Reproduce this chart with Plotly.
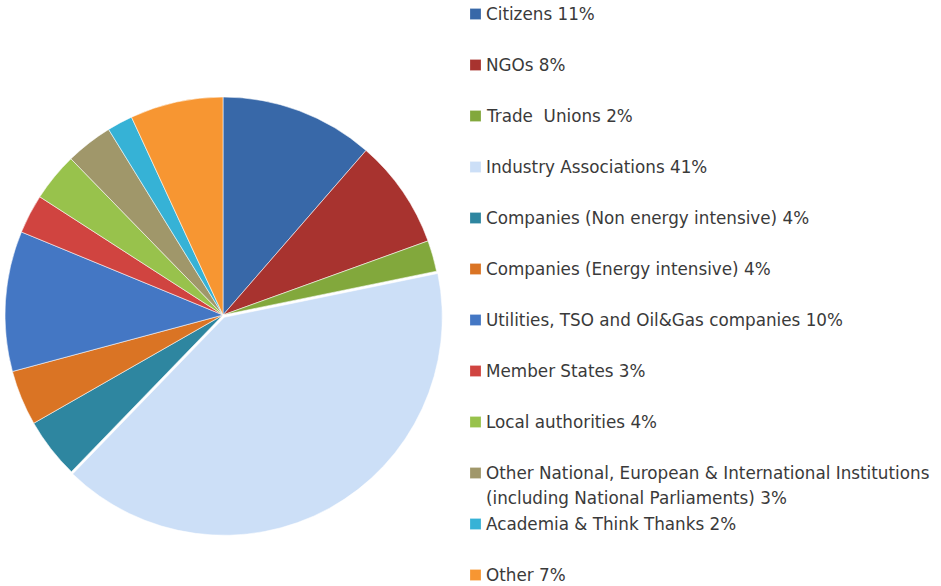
import plotly.graph_objects as go

categories = [
    "Citizens 11%",
    "NGOs 8%",
    "Trade  Unions 2%",
    "Industry Associations 41%",
    "Companies (Non energy intensive) 4%",
    "Companies (Energy intensive) 4%",
    "Utilities, TSO and Oil&Gas companies 10%",
    "Member States 3%",
    "Local authorities 4%",
    "Other National, European & International Institutions<br>(including National Parliaments) 3%",
    "Academia & Think Thanks 2%",
    "Other 7%",
]
shares = [11.4, 8.1, 2.3, 40.5, 4.5, 4.1, 10.4, 2.9, 3.6, 3.5, 1.9, 6.9]
colors = [
    "#3868A8", "#A8332F", "#82A83C", "#CCDFF7", "#2E86A0", "#DA7424",
    "#4477C4", "#D04440", "#98C24C", "#A0976A", "#36B2D6", "#F79632",
]
pulls = [0, 0, 0, 0.012, 0, 0, 0, 0, 0, 0, 0, 0]

W, H = 941, 586
cx, cy, r = 223, 315, 218
half = r * (1 + max(pulls))

fig = go.Figure(go.Pie(
    labels=categories,
    values=shares,
    sort=False,
    direction="clockwise",
    rotation=0,
    pull=pulls,
    textinfo="none",
    hoverinfo="label",
    marker=dict(colors=colors, line=dict(color="rgba(255,255,255,0.55)", width=1)),
    domain=dict(x=[(cx - half) / W, (cx + half) / W],
                y=[(H - cy - half) / H, (H - cy + half) / H]),
    showlegend=False,
))

# manual legend (Excel-like spacing)
shapes = []
annotations = []
y0 = 14
step = 51
line_gap = 25
sq_x0, sq_x1 = 470, 481
text_x = 486 - 2
for i, (lab, col) in enumerate(zip(categories, colors)):
    yc = y0 + i * step
    shapes.append(dict(type="rect", xref="paper", yref="paper",
                       x0=sq_x0 / W, x1=sq_x1 / W,
                       y0=1 - (yc + 5.5) / H, y1=1 - (yc - 5.5) / H,
                       fillcolor=col, line=dict(color="rgba(255,255,255,0.4)", width=0.5)))
    for j, part in enumerate(lab.split("<br>")):
        annotations.append(dict(text=part, xref="paper", yref="paper",
                                x=text_x / W, y=1 - (yc + j * line_gap) / H,
                                xanchor="left", yanchor="middle", showarrow=False,
                                font=dict(family="DejaVu Sans", size=16.8, color="#3a3a3a")))

fig.update_layout(
    width=W, height=H,
    margin=dict(l=0, r=0, t=0, b=0),
    paper_bgcolor="white",
    plot_bgcolor="white",
    shapes=shapes,
    annotations=annotations,
)

fig.write_html(
    "out.html",
    config={"displayModeBar": False},
    post_script="document.body.style.margin='0';document.body.style.overflow='hidden';",
)
